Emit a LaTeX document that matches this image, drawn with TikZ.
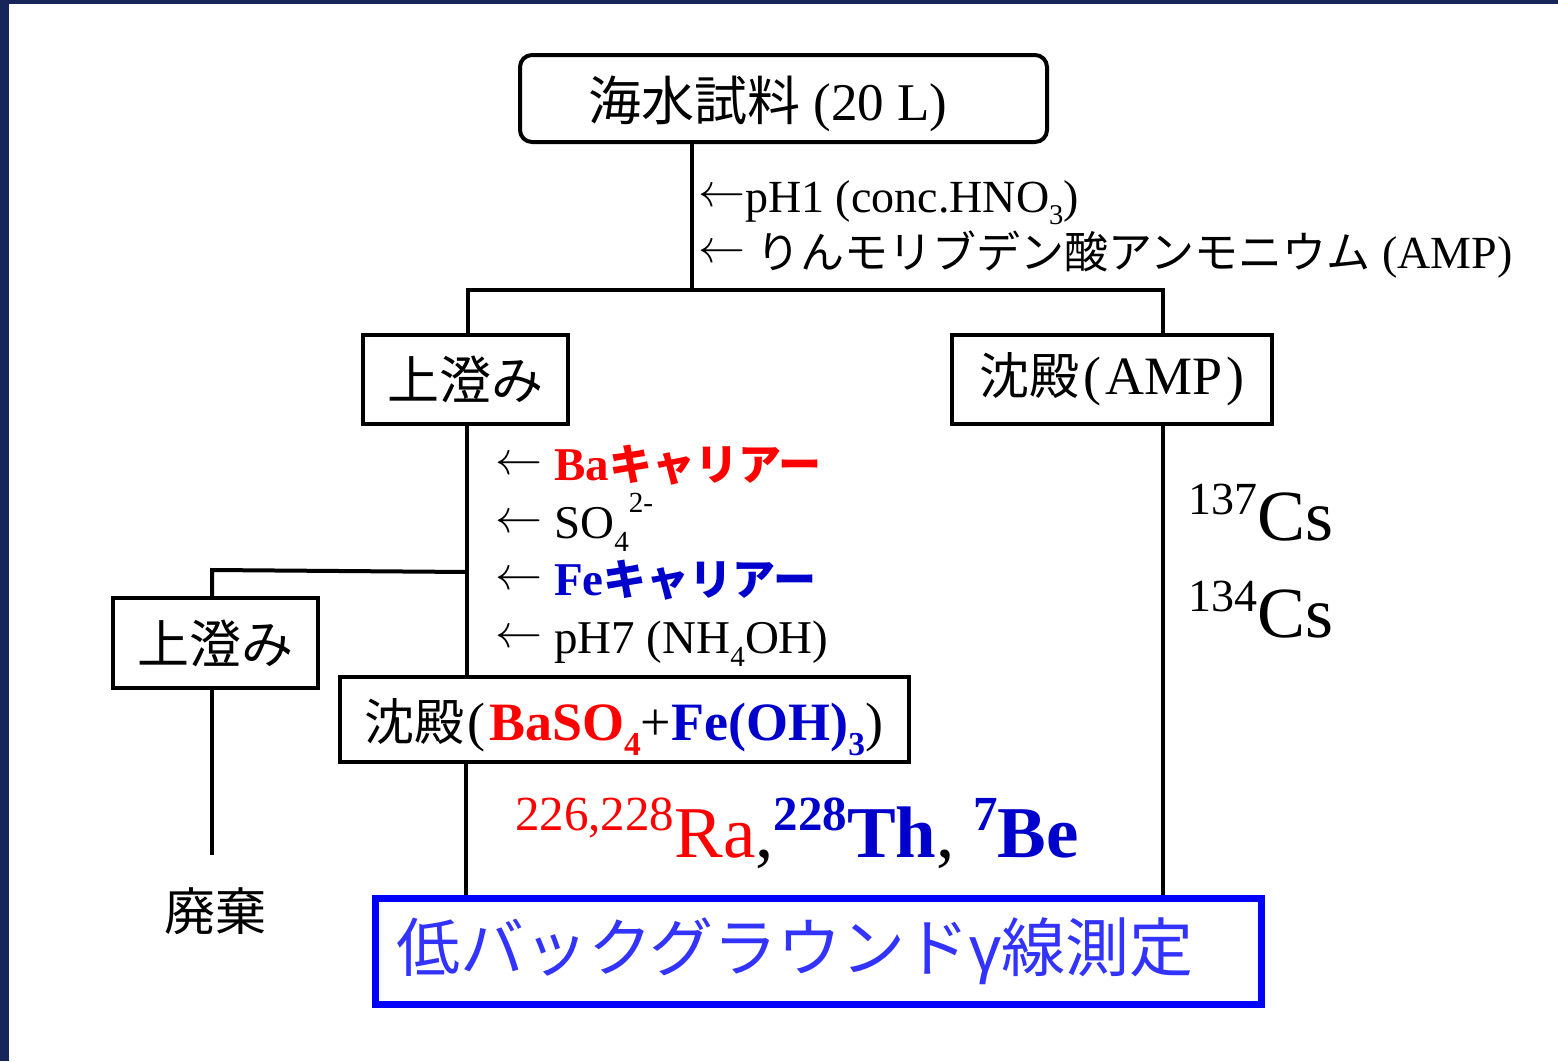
\documentclass[tikz,border=0pt]{standalone}
\usepackage{fontspec}
\setmainfont{Liberation Serif}
\newfontfamily\jp{Noto Sans CJK JP}
\newfontfamily\gsans{Liberation Sans}
\newcommand\fs[1]{\fontsize{#1}{#1}\selectfont}
\newcommand\mysub[1]{\raisebox{-0.28em}{\scalebox{0.62}{#1}}}
\newcommand\mysupx[1]{\raisebox{0.55em}{\scalebox{0.62}{#1}}}
\newcommand\larr{\raisebox{6pt}{\scalebox{4.7}{\normalsize$\leftarrow$}}}
\definecolor{bgblue}{RGB}{22,38,88}
\definecolor{cred}{RGB}{255,0,0}
\definecolor{cblue}{RGB}{0,0,204}
\definecolor{mblue}{RGB}{51,51,255}
\definecolor{bblue}{RGB}{0,0,255}
\tikzset{
  box/.style={draw=black, line width=4pt, fill=white, inner sep=0pt},
  conn/.style={draw=black, line width=4pt},
  lbl/.style={anchor=base west, inner sep=0pt},
}
\begin{document}
\begin{tikzpicture}[x=1pt,y=-1pt]
\useasboundingbox (0,0) rectangle (1558,1061);
\fill[bgblue] (0,0) rectangle (1558,1061);
\fill[white] (9,4) rectangle (1558,1061);

% boxes
\node[box, rounded corners=12pt, minimum width=527pt, minimum height=87pt] (top) at (783.5,98.5) {};
\node[anchor=base, inner sep=0pt] (toptxt) at (768,120) {\fs{53}{\jp 海水試料} (20 L)};

\node[box, minimum width=205pt, minimum height=89pt] (sup1) at (465.5,379.5) {\fs{52}\jp 上澄み};
\node[box, minimum width=320pt, minimum height=89pt] (ppt1) at (1112,379.5) {\fs{50}{\jp 沈殿}\kern4pt{\fs{54}(\kern4pt AMP\kern4pt)}};
\node[box, minimum width=205pt, minimum height=90pt] (sup2) at (215.5,643) {\fs{52}\jp 上澄み};
\node[box, minimum width=569pt, minimum height=85pt] (ppt2) at (624.5,719.5) {};
\node[anchor=base west, inner sep=0pt] (ppt2txt) at (364,740) {{\fs{50}\jp 沈殿}\fs{54}\kern3pt(\kern4pt\bfseries\textcolor{cred}{BaSO\mysub{4}}\mdseries+\bfseries\textcolor{cblue}{Fe(OH)\mysub{3}}\mdseries)};

\node[draw=bblue, line width=7pt, fill=white, minimum width=886pt, minimum height=106pt] (meas) at (818,951) {};
\node[anchor=west, inner sep=0pt, text=mblue] (meastxt) at (396,951) {\fs{64}{\jp 低バックグラウンド}{\gsans γ}{\jp 線測定}};

\node[anchor=base, inner sep=0pt] (waste) at (215,930) {\fs{51}\jp 廃棄};

% connector coordinates
\coordinate (j1) at (692,290);
\coordinate (jl) at (468,290);
\coordinate (jr) at (1163,290);
\coordinate (jb) at (468,572);
\coordinate (jb2) at (212,570);
\coordinate (wend) at (212,855);

\draw[conn] (top.south -| j1) -- (j1);
\draw[conn, line cap=rect] (jl) -- (jr);
\draw[conn] (jl) -- (sup1.north -| jl);
\draw[conn] (jr) -- (ppt1.north -| jr);
\draw[conn] (sup1.south -| 467,0) -- (ppt2.north -| 467,0);
\draw[conn] (jb) -- (jb2) -- (sup2.north -| jb2);
\draw[conn] (sup2.south -| wend) -- (wend);
\draw[conn] (ppt2.south -| 466,0) -- (meas.north -| 466,0);
\draw[conn] (ppt1.south -| jr) -- (meas.north -| jr);

% labels
\node[lbl] (l1) at (698,212) {\fs{46}\larr pH1 (conc.HNO\mysub{3})};
\node[lbl] (l2) at (698,268) {\fs{46}\larr{} {\fs{44}\jp りんモリブデン酸アンモニウム} (AMP)};

\node[lbl] (a1) at (495,480) {\fs{47}\larr\kern12pt\textcolor{cred}{\bfseries Ba{\fs{43}\jp キャリアー}}};
\node[lbl] (a2) at (495,538) {\fs{47}\larr\kern12pt SO\mysub{4}\mysupx{2-}};
\node[lbl] (a3) at (495,595) {\fs{47}\larr\kern12pt\textcolor{cblue}{\bfseries Fe{\fs{43}\jp キャリアー}}};
\node[lbl] (a4) at (495,653) {\fs{47}\larr\kern12pt pH7 (NH\mysub{4}OH)};

\node[lbl] (cs1) at (1188,540) {{\fs{46}\raisebox{0.55em}{137}}{\fs{72}Cs}};
\node[lbl] (cs2) at (1188,637) {{\fs{46}\raisebox{0.55em}{134}}{\fs{72}Cs}};

\node[lbl] (iso) at (515,857) {\textcolor{cred}{{\fs{49}\raisebox{0.55em}{226,228}}{\fs{73}Ra}}{\fs{73},}\textcolor{cblue}{\bfseries{\fs{49}\raisebox{0.55em}{228}}{\fs{73}Th}}{\fs{73}, }\textcolor{cblue}{\bfseries{\fs{49}\raisebox{0.55em}{7}}{\fs{73}Be}}};
\end{tikzpicture}
\end{document}
